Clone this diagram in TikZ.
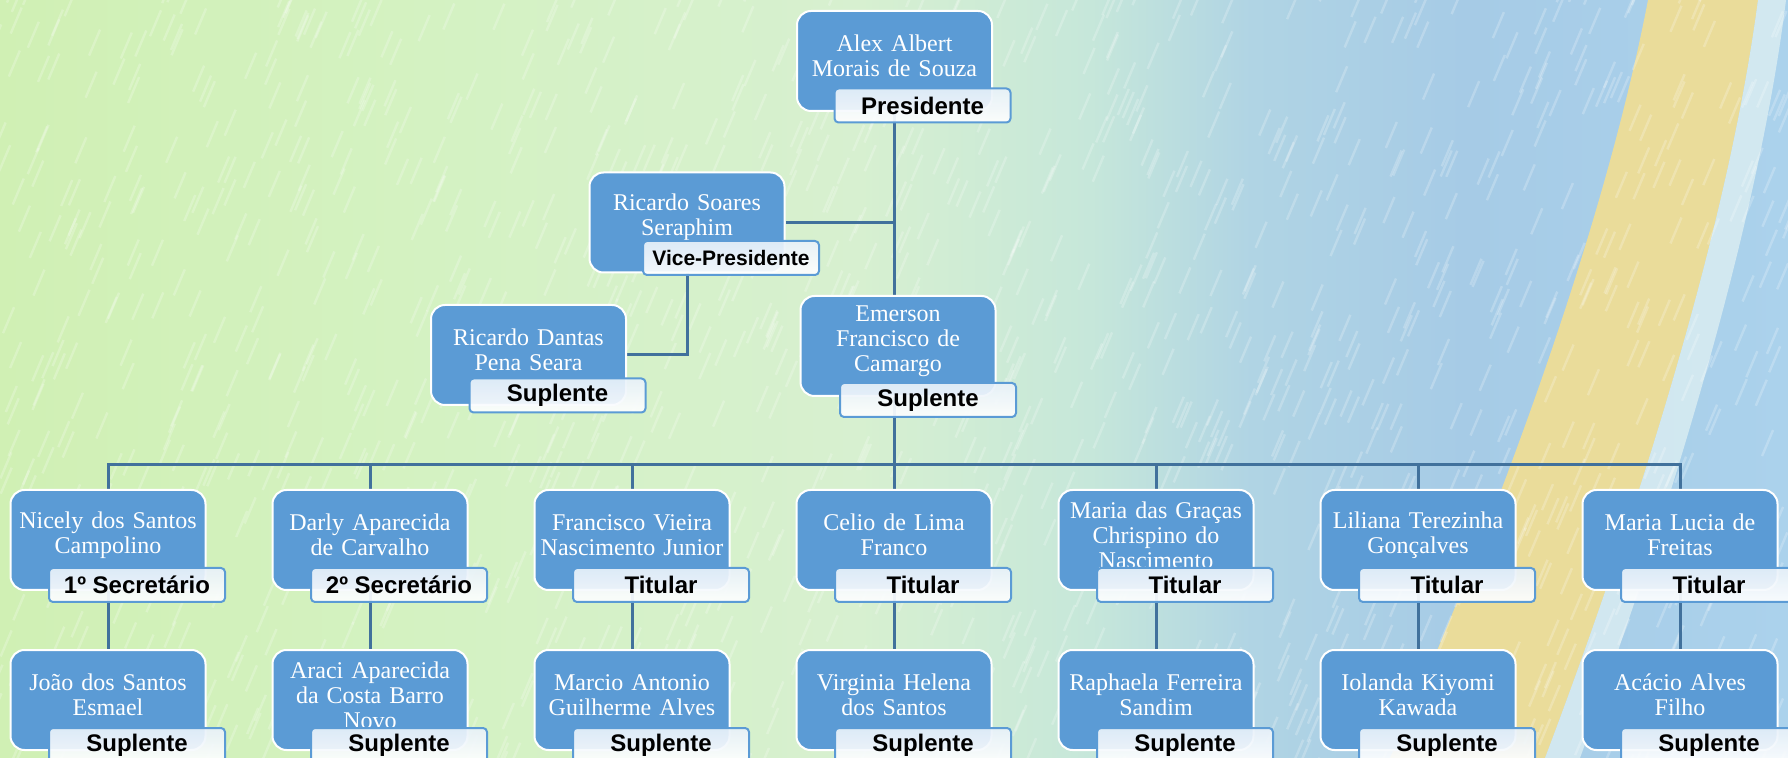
\documentclass[tikz,border=0pt]{standalone}
\usepackage{fontspec}
\setmainfont{Liberation Serif}
\newfontfamily\rolfont{Liberation Sans}
\usepackage{tikz}
\usetikzlibrary{positioning, calc}
\definecolor{caixaAzul}{HTML}{5B9BD5}
\definecolor{linhaAzul}{HTML}{41719C}
\definecolor{verdeA}{HTML}{D0F0B4}
\definecolor{verdeB}{HTML}{D4F2C2}
\definecolor{verdeC}{HTML}{D7F0D0}
\definecolor{cianoA}{HTML}{C6E7DA}
\definecolor{azulA}{HTML}{B0D4E4}
\definecolor{azulB}{HTML}{A6CBE6}
\definecolor{azulC}{HTML}{ABD2EC}
\definecolor{amarelo}{HTML}{F2DE92}
\definecolor{claro}{HTML}{DCEEF2}

\pgfdeclarelayer{fundo}
\pgfdeclarelayer{linhas}
\pgfsetlayers{fundo,linhas,main}

\pgfdeclarehorizontalshading{aquarela}{100bp}{color(0bp)=(verdeA); color(25bp)=(verdeA); color(37bp)=(verdeB); color(49bp)=(verdeC); color(55.5bp)=(cianoA); color(60bp)=(azulA); color(66bp)=(azulB); color(75bp)=(azulC); color(100bp)=(azulC)}

\tikzset{
  pessoa/.style={draw=white, line width=1pt, fill=caixaAzul, rounded corners=7pt,
    minimum width=97.5pt, minimum height=50pt, text width=93pt, inner sep=2pt,
    text=white, align=center, font=\fontsize{12}{12.5}\selectfont,
    execute at end node={\par\kern5pt}},
  rol/.style={draw=caixaAzul, line width=1pt, rounded corners=2pt,
    top color=white!86!caixaAzul, bottom color=white, fill opacity=0.92, text opacity=1,
    minimum width=88pt, minimum height=17pt, inner sep=0pt,
    font=\rolfont\bfseries\fontsize{12}{12}\selectfont},
  conector/.style={draw=linhaAzul, line width=1.5pt},
}

\begin{document}
\begin{tikzpicture}[x=0.5pt, y=-0.5pt, line cap=round]
  \useasboundingbox (0,0) rectangle (1788,758);
  \begin{pgfonlayer}{fundo}
    \shade[shading=aquarela] (0,0) rectangle (1788,758);
    % faixa amarela
    \fill[amarelo, opacity=0.9] (1648,0) .. controls (1600,250) and (1480,560) .. (1390,758) -- (1545,758) .. controls (1620,560) and (1725,250) .. (1758,0) -- cycle;
    \fill[claro, opacity=0.8] (1758,0) .. controls (1725,250) and (1620,560) .. (1545,758) -- (1580,758) .. controls (1652,560) and (1755,250) .. (1786,0) -- cycle;
    % riscos
    \pgfmathsetseed{11}
    \foreach \i in {1,...,1400} {
      \pgfmathsetmacro{\rx}{1800*rnd-10}
      \pgfmathsetmacro{\ry}{790*rnd}
      \draw[white, opacity=0.22, line width=1.2pt] (\rx,\ry) -- ++(11,-26);
    }
  \end{pgfonlayer}

  % topo
  \node[pessoa] (presidente) at (894.5,61) {Alex Albert\\Morais de Souza};
  \node[rol] (rol-presidente) at (922.5,105.5) {Presidente};
  \node[pessoa] (vice) at (687,222.5) {Ricardo Soares\\Seraphim};
  \node[rol, font=\rolfont\bfseries\fontsize{10.5}{10.5}\selectfont] (rol-vice) at (731,258) {Vice-Presidente};
  \node[pessoa] (sup-vice) at (528.5,355) {Ricardo Dantas\\Pena Seara};
  \node[rol] (rol-sup-vice) at (557.5,395.5) {Suplente};
  \node[pessoa] (sup-pres) at (898,346) {Emerson\\Francisco de\\Camargo};
  \node[rol] (rol-sup-pres) at (928,400) {Suplente};

  % colunas
  \foreach \col/\titular/\cargo/\suplente [count=\n] in {
      108/{Nicely dos Santos\\Campolino}/{1º Secretário}/{João dos Santos\\Esmael},
      370/{Darly Aparecida\\de Carvalho}/{2º Secretário}/{Araci Aparecida\\da Costa Barro\\Novo},
      632/{Francisco Vieira\\Nascimento Junior}/Titular/{Marcio Antonio\\Guilherme Alves},
      894/{Celio de Lima\\Franco}/Titular/{Virginia Helena\\dos Santos},
      1156/{Maria das Graças\\Chrispino do\\Nascimento}/Titular/{Raphaela Ferreira\\Sandim},
      1418/{Liliana Terezinha\\Gonçalves}/Titular/{Iolanda Kiyomi\\Kawada},
      1680/{Maria Lucia de\\Freitas}/Titular/{Acácio Alves\\Filho}} {
    \node[pessoa] (tit-\n) at (\col,540) {\titular};
    \node[rol] (rol-tit-\n) at (\col+29,585) {\cargo};
    \node[pessoa] (sup-\n) at (\col,700) {\suplente};
    \node[rol] (rol-sup-\n) at (\col+29,745) {Suplente};
  }

  \begin{pgfonlayer}{linhas}
    \coordinate (barra) at (presidente.south |- 0,465);
    \draw[conector] (presidente.south) -- (barra);
    \draw[conector] (vice.east) -- (vice.east -| barra);
    \draw[conector] (vice.south) |- (sup-vice.east);
    \foreach \n in {1,...,7} {
      \draw[conector] (barra) -| (tit-\n.north);
      \draw[conector] (tit-\n.south) -- (sup-\n.north);
    }
  \end{pgfonlayer}
\end{tikzpicture}
\end{document}
